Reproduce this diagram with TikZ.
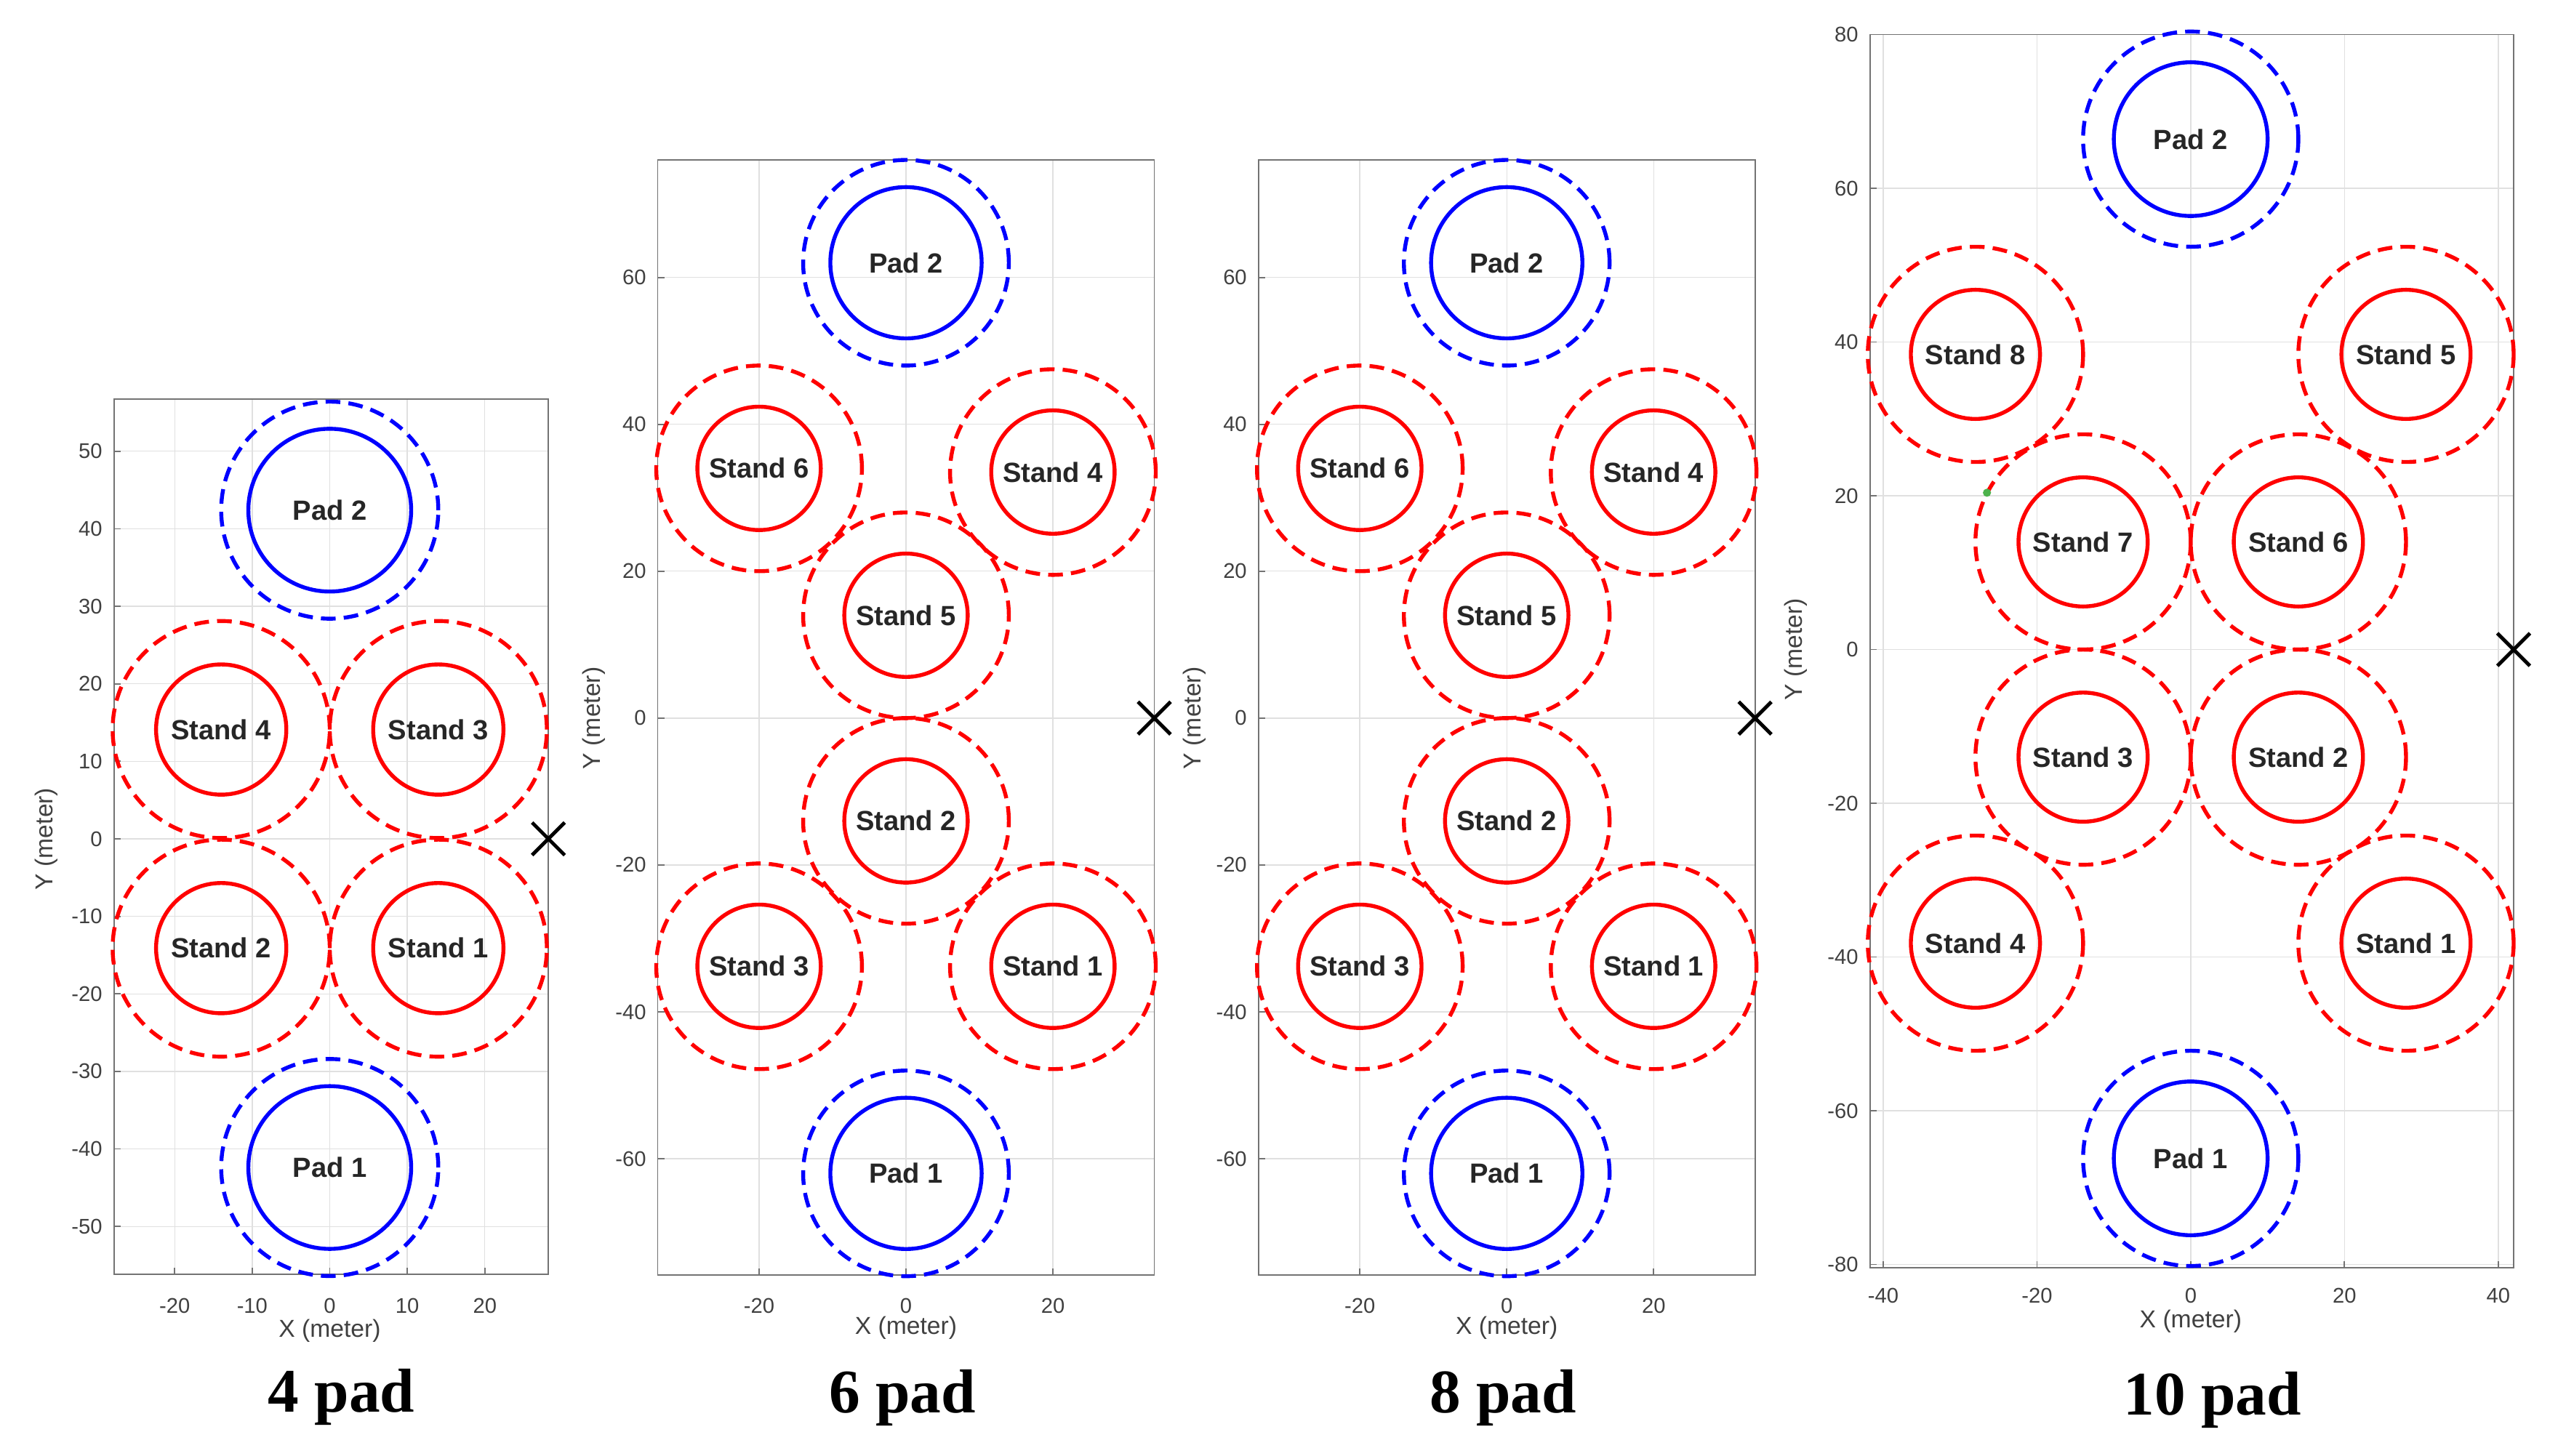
\documentclass[tikz,border=0pt]{standalone}
\usepackage{fontspec}
\setmainfont{Liberation Sans}
\newfontfamily\titlefont{Liberation Serif}
\begin{document}
\begin{tikzpicture}[x=1pt,y=1pt,
  ring/.style={line width=2.4pt},
  dring/.style={line width=2.4pt,dash pattern=on 9pt off 5pt},
  lbl/.style={font=\fontsize{17}{19}\selectfont\bfseries,text=black!85},
  tk/.style={font=\fontsize{13}{15}\selectfont,text=black!75},
  axl/.style={font=\fontsize{15}{17}\selectfont,text=black!75},
  ttl/.style={font=\titlefont\fontsize{38}{40}\selectfont\bfseries},
  grd/.style={black!12,line width=0.6pt},
  bx/.style={black!55,line width=0.8pt},
  xm/.style={line width=2.2pt}]
\useasboundingbox (0,0) rectangle (1567,-892);
\newcommand\ringpair[7]{% name, color, x, y, rsolid, rdash, label
  \draw[#2,dring] (#3,#4) circle[radius=#6];
  \draw[#2,ring] (#3,#4) circle[radius=#5];
  \node[lbl] (#1) at (#3,#4) {#7};}
\newcommand\xmark[3]{\node[inner sep=0pt,minimum size=0pt] (#1) at (#2,#3) {};
  \draw[xm] ([shift={(-10pt,-10pt)}]#1.center) -- ([shift={(10pt,10pt)}]#1.center)
            ([shift={(-10pt,10pt)}]#1.center) -- ([shift={(10pt,-10pt)}]#1.center);}
% ---------------- Panel 1 ----------------
\begin{scope}[shift={(202,-514)},x=4.75pt,y=4.75pt]
  \foreach \t in {-20,-10,0,10,20} \draw[grd] (\t,-56.2) -- (\t,56.7);
  \foreach \t in {-50,-40,...,50} \draw[grd] (-27.8,\t) -- (28.2,\t);
  \draw[bx] (-27.8,-56.2) rectangle (28.2,56.7);
  \foreach \t in {-20,-10,0,10,20} {\draw[bx] (\t,-56.2) -- ++(0,4pt); \node[tk,anchor=north] at (\t,-58.5) {\t};}
  \foreach \t in {-50,-40,...,50} {\draw[bx] (-27.8,\t) -- ++(4pt,0); \node[tk,anchor=east] at (-28.6,\t) {\t};}
  \node[axl] at (0,-63.5) {X (meter)};
  \node[axl,rotate=90] at (-36.5,0) {Y (meter)};
  \ringpair{a1}{blue}{0}{42.4}{10.5}{14}{Pad 2}
  \ringpair{a2}{red}{-14}{14.1}{8.4}{14}{Stand 4}
  \ringpair{a3}{red}{14}{14.1}{8.4}{14}{Stand 3}
  \ringpair{a4}{red}{-14}{-14.1}{8.4}{14}{Stand 2}
  \ringpair{a5}{red}{14}{-14.1}{8.4}{14}{Stand 1}
  \ringpair{a6}{blue}{0}{-42.4}{10.5}{14}{Pad 1}
  \xmark{ax}{28.2}{0}
  \node[ttl] at (1.5,-72) {4 pad};
\end{scope}
% ---------------- Panels 2,3 ----------------
\foreach \ox/\nm/\tt in {555/b/6 pad,923/c/8 pad}{
\begin{scope}[shift={(\ox,-440)},x=4.5pt,y=4.5pt]
  \foreach \t in {-20,0,20} \draw[grd] (\t,-75.8) -- (\t,76);
  \foreach \t in {-60,-40,...,60} \draw[grd] (-33.8,\t) -- (33.8,\t);
  \draw[bx] (-33.8,-75.8) rectangle (33.8,76);
  \foreach \t in {-20,0,20} {\draw[bx] (\t,-75.8) -- ++(0,4pt); \node[tk,anchor=north] at (\t,-78.2) {\t};}
  \foreach \t in {-60,-40,...,60} {\draw[bx] (-33.8,\t) -- ++(4pt,0); \node[tk,anchor=east] at (-34.6,\t) {\t};}
  \node[axl] at (0,-83) {X (meter)};
  \node[axl,rotate=90] at (-42.5,0) {Y (meter)};
  \ringpair{\nm1}{blue}{0}{62}{10.3}{14}{Pad 2}
  \ringpair{\nm2}{red}{-20}{34}{8.4}{14}{Stand 6}
  \ringpair{\nm3}{red}{20}{33.5}{8.4}{14}{Stand 4}
  \ringpair{\nm4}{red}{0}{14}{8.4}{14}{Stand 5}
  \ringpair{\nm5}{red}{0}{-14}{8.4}{14}{Stand 2}
  \ringpair{\nm6}{red}{-20}{-33.8}{8.4}{14}{Stand 3}
  \ringpair{\nm7}{red}{20}{-33.8}{8.4}{14}{Stand 1}
  \ringpair{\nm8}{blue}{0}{-62}{10.3}{14}{Pad 1}
  \xmark{\nm x}{33.8}{0}
  \node[ttl] at (-0.5,-92.6) {\tt};
\end{scope}}
% ---------------- Panel 4 ----------------
\begin{scope}[shift={(1342,-398)},x=4.71pt,y=4.71pt]
  \foreach \t in {-40,-20,0,20,40} \draw[grd] (\t,-80.4) -- (\t,80);
  \foreach \t in {-80,-60,...,80} \draw[grd] (-41.7,\t) -- (42,\t);
  \draw[bx] (-41.7,-80.4) rectangle (42,80);
  \foreach \t in {-40,-20,0,20,40} {\draw[bx] (\t,-80.4) -- ++(0,4pt); \node[tk,anchor=north] at (\t,-82.3) {\t};}
  \foreach \t in {-80,-60,...,80} {\draw[bx] (-41.7,\t) -- ++(4pt,0); \node[tk,anchor=east] at (-42.5,\t) {\t};}
  \node[axl] at (0,-87.4) {X (meter)};
  \node[axl,rotate=90] at (-51.4,0) {Y (meter)};
  \ringpair{d1}{blue}{0}{66.4}{10}{14}{Pad 2}
  \ringpair{d2}{red}{-28}{38.4}{8.4}{14}{Stand 8}
  \ringpair{d3}{red}{28}{38.4}{8.4}{14}{Stand 5}
  \ringpair{d4}{red}{-14}{14}{8.4}{14}{Stand 7}
  \ringpair{d5}{red}{14}{14}{8.4}{14}{Stand 6}
  \ringpair{d6}{red}{-14}{-14}{8.4}{14}{Stand 3}
  \ringpair{d7}{red}{14}{-14}{8.4}{14}{Stand 2}
  \ringpair{d8}{red}{-28}{-38.2}{8.4}{14}{Stand 4}
  \ringpair{d9}{red}{28}{-38.2}{8.4}{14}{Stand 1}
  \ringpair{d10}{blue}{0}{-66.2}{10}{14}{Pad 1}
  \fill[green!40!gray] (-26.5,20.4) circle[radius=2.5pt];
  \xmark{dx}{42}{0}
  \node[ttl] at (2.8,-97.6) {10 pad};
\end{scope}
\end{tikzpicture}
\end{document}
